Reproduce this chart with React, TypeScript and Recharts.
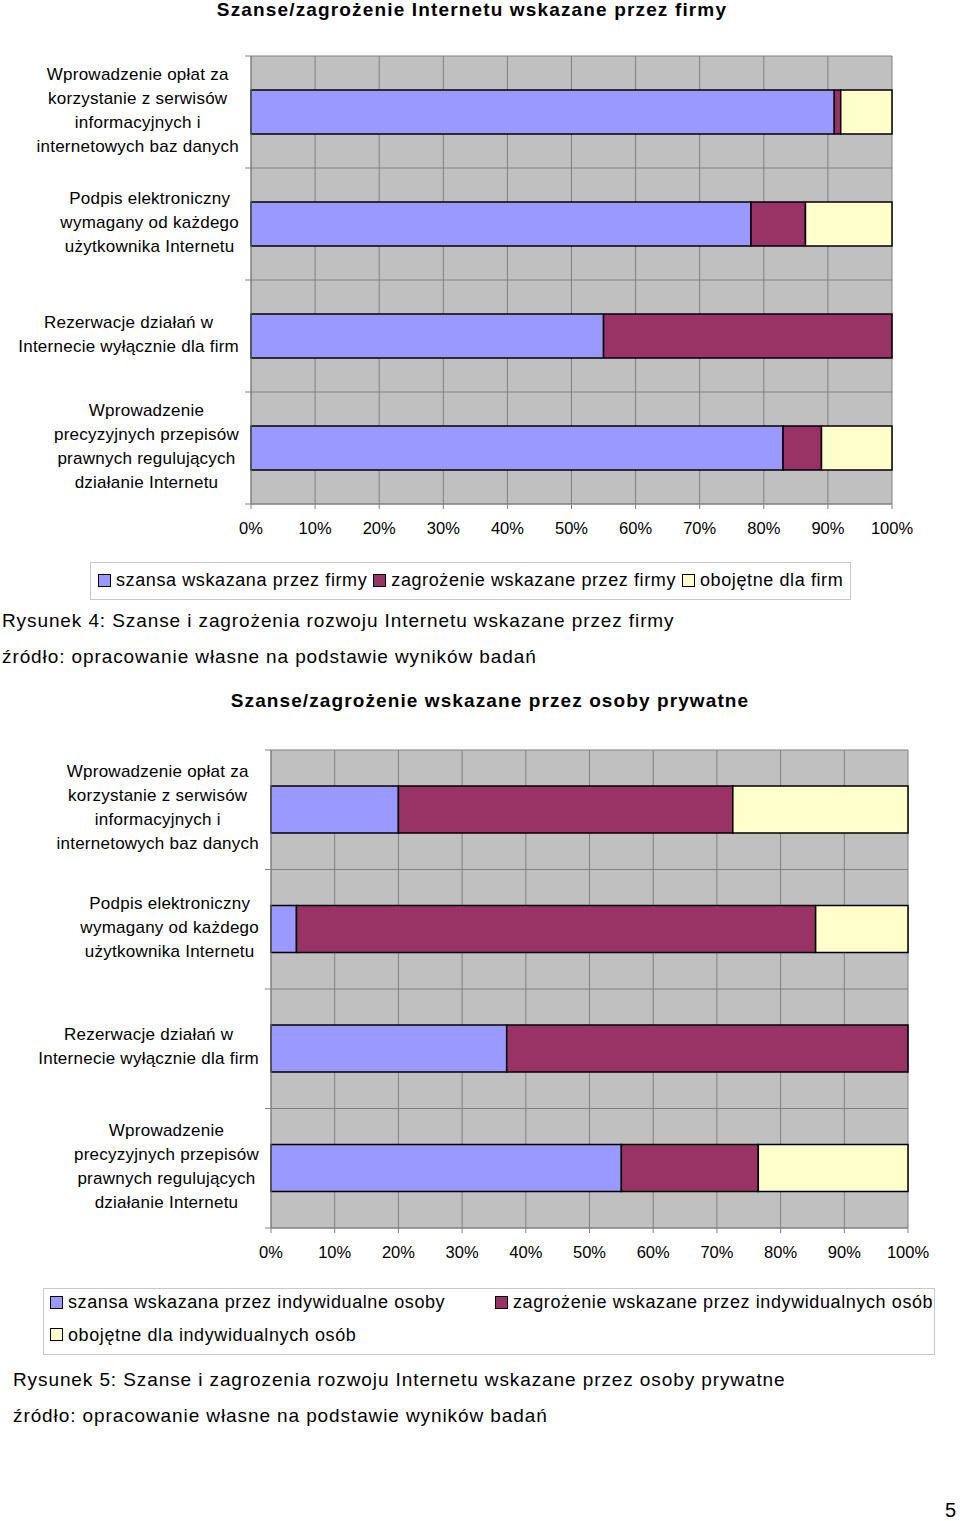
import React from 'react';
import { BarChart, Bar, XAxis, YAxis, CartesianGrid } from 'recharts';

// category labels (line breaks where the original wraps them)
const categories = [
  'Wprowadzenie opłat za\nkorzystanie z serwisów\ninformacyjnych i\ninternetowych baz danych',
  'Podpis elektroniczny\nwymagany od każdego\nużytkownika Internetu',
  'Rezerwacje działań w\nInternecie wyłącznie dla firm',
  'Wprowadzenie\nprecyzyjnych przepisów\nprawnych regulujących\ndziałanie Internetu',
];

// Rysunek 4 - firmy (%)
const firmChance = [91, 78, 55, 83];
const firmThreat = [1, 8.5, 45, 6];
const firmNeutral = [8, 13.5, 0, 11];
const firmSeries = ['szansa wskazana przez firmy', 'zagrożenie wskazane przez firmy', 'obojętne dla firm'];

// Rysunek 5 - osoby prywatne (%)
const personChance = [20, 4, 37, 55];
const personThreat = [52.5, 81.5, 63, 21.5];
const personNeutral = [27.5, 14.5, 0, 23.5];
const personSeries = [
  'szansa wskazana przez indywidualne osoby',
  'zagrożenie wskazane przez indywidualnych osób',
  'obojętne dla indywidualnych osób',
];

const percentTicks = [0, 10, 20, 30, 40, 50, 60, 70, 80, 90, 100];

const COLORS = ['#9999ff', '#993366', '#ffffcc'];
const FONT = '"Liberation Sans", Arial, sans-serif';
const GRID = '#808080';
const LABEL_SPACING = 0.25;

let ctx: CanvasRenderingContext2D | null = null;
const measure = (s: string, size: number) => {
  if (!ctx) ctx = document.createElement('canvas').getContext('2d');
  if (!ctx) return s.length * size * 0.5;
  ctx.font = `${size}px ${FONT}`;
  return ctx.measureText(s).width + s.length * LABEL_SPACING;
};

const CategoryTick = (props: any) => {
  const { x, y, payload, index, band, gap, count } = props;
  const size = 17;
  const lh = 24;
  const lines = String(payload.value).split('\n');
  const maxW = Math.max(...lines.map((l) => measure(l, size)));
  const cx = x - gap - maxW / 2;
  return (
    <g>
      <line x1={x - 6} x2={x} y1={y - band / 2} y2={y - band / 2} stroke={GRID} />
      {index === count - 1 && <line x1={x - 6} x2={x} y1={y + band / 2} y2={y + band / 2} stroke={GRID} />}
      {lines.map((l, i) => (
        <text
          key={i}
          x={cx}
          y={y + (i - (lines.length - 1) / 2) * lh - 2}
          textAnchor="middle"
          dominantBaseline="central"
          fontSize={size}
          fontFamily={FONT}
          letterSpacing={LABEL_SPACING}
          fill="#000"
        >
          {l}
        </text>
      ))}
    </g>
  );
};

type ChartProps = {
  top: number;
  plotLeft: number;
  plotRight: number;
  plotTop: number;
  plotBottom: number;
  barSize: number;
  chance: number[];
  threat: number[];
  neutral: number[];
};

const StackChart = ({ top, plotLeft, plotRight, plotTop, plotBottom, barSize, chance, threat, neutral }: ChartProps) => {
  const data = categories.map((name, i) => ({ name, chance: chance[i], threat: threat[i], neutral: neutral[i] }));
  const height = plotBottom - top + 46;
  const band = (plotBottom - plotTop) / categories.length;
  return (
    <div style={{ position: 'absolute', left: 0, top }}>
      <BarChart
        width={960}
        height={height}
        data={data}
        layout="vertical"
        margin={{ top: plotTop - top, right: 960 - plotRight, left: 0, bottom: 6 }}
      >
        <CartesianGrid
          stroke={GRID}
          fill="#c0c0c0"
          fillOpacity={1}
          horizontalCoordinatesGenerator={({ offset }: any) =>
            categories.map((_, i) => offset.top + (i * offset.height) / categories.length).concat(offset.top + offset.height)
          }
        />
        <XAxis
          type="number"
          domain={[0, 100]}
          ticks={percentTicks}
          interval={0}
          tickFormatter={(v) => `${v}%`}
          height={40}
          tickSize={5}
          tickMargin={13}
          stroke={GRID}
          tick={{ fill: '#000', fontSize: 16.5, fontFamily: FONT }}
        />
        <YAxis
          type="category"
          dataKey="name"
          width={plotLeft}
          tickSize={0}
          tickMargin={0}
          tickLine={false}
          stroke={GRID}
          interval={0}
          tick={(p: any) => <CategoryTick {...p} band={band} gap={12} count={categories.length} />}
        />
        <Bar dataKey="chance" stackId="a" fill={COLORS[0]} stroke="#000" strokeWidth={1.5} barSize={barSize} isAnimationActive={false} />
        <Bar dataKey="threat" stackId="a" fill={COLORS[1]} stroke="#000" strokeWidth={1.5} barSize={barSize} isAnimationActive={false} />
        <Bar dataKey="neutral" stackId="a" fill={COLORS[2]} stroke="#000" strokeWidth={1.5} barSize={barSize} isAnimationActive={false} />
      </BarChart>
    </div>
  );
};

const Swatch = ({ color }: { color: string }) => (
  <span
    style={{
      display: 'inline-block',
      width: 11,
      height: 11,
      background: color,
      border: '1.5px solid #000',
      marginRight: 5,
      verticalAlign: 'middle',
      position: 'relative',
      top: -1,
    }}
  />
);

const text = (style: React.CSSProperties, content: string, size = 19, bold = false, spacing = 0.9) => (
  <div
    style={{
      position: 'absolute',
      fontFamily: FONT,
      fontSize: size,
      fontWeight: bold ? 'bold' : 'normal',
      letterSpacing: spacing,
      lineHeight: '22px',
      whiteSpace: 'nowrap',
      color: '#000',
      ...style,
    }}
  >
    {content}
  </div>
);

export default function App() {
  return (
    <div style={{ position: 'absolute', left: 0, top: 0, width: 960, height: 1521, background: '#fff', overflow: 'hidden' }}>
      {text({ left: 0, width: 944, top: 0, lineHeight: '20px', textAlign: 'center' }, 'Szanse/zagrożenie Internetu wskazane przez firmy', 19, true, 1.15)}

      <StackChart
        top={40}
        plotLeft={251}
        plotRight={892}
        plotTop={56}
        plotBottom={504}
        barSize={44}
        chance={firmChance}
        threat={firmThreat}
        neutral={firmNeutral}
      />

      <div
        style={{
          position: 'absolute',
          left: 90,
          top: 562,
          width: 761,
          height: 38,
          boxSizing: 'border-box',
          border: '1px solid #c8c8c8',
          fontFamily: FONT,
          fontSize: 18,
          letterSpacing: 0.6,
          lineHeight: '35px',
          paddingLeft: 7,
          whiteSpace: 'nowrap',
        }}
      >
        {firmSeries.map((s, i) => (
          <span key={s} style={{ marginRight: 6 }}>
            <Swatch color={COLORS[i]} />
            {s}
          </span>
        ))}
      </div>

      {text({ left: 2, top: 610 }, 'Rysunek 4: Szanse i zagrożenia rozwoju Internetu wskazane przez firmy')}
      {text({ left: 2, top: 646 }, 'źródło: opracowanie własne na podstawie wyników badań')}

      {text({ left: 20, width: 940, top: 690, textAlign: 'center' }, 'Szanse/zagrożenie wskazane przez osoby prywatne', 19, true, 1.1)}

      <StackChart
        top={734}
        plotLeft={271}
        plotRight={908}
        plotTop={750}
        plotBottom={1228}
        barSize={47}
        chance={personChance}
        threat={personThreat}
        neutral={personNeutral}
      />

      <div
        style={{
          position: 'absolute',
          left: 43,
          top: 1288,
          width: 892,
          height: 67,
          boxSizing: 'border-box',
          border: '1px solid #c8c8c8',
          fontFamily: FONT,
          fontSize: 18,
          letterSpacing: 0.6,
          lineHeight: '32px',
          paddingLeft: 6,
          whiteSpace: 'nowrap',
          display: 'grid',
          gridTemplateColumns: '445px auto',
        }}
      >
        {personSeries.map((s, i) => (
          <div key={s} style={{ position: 'relative', top: -3 }}>
            <Swatch color={COLORS[i]} />
            {s}
          </div>
        ))}
      </div>

      {text({ left: 13, top: 1369 }, 'Rysunek 5: Szanse i zagrozenia rozwoju Internetu wskazane przez osoby prywatne')}
      {text({ left: 13, top: 1405 }, 'źródło: opracowanie własne na podstawie wyników badań')}

      {text({ left: 945, top: 1499 }, '5', 20, false, 0)}
    </div>
  );
}
